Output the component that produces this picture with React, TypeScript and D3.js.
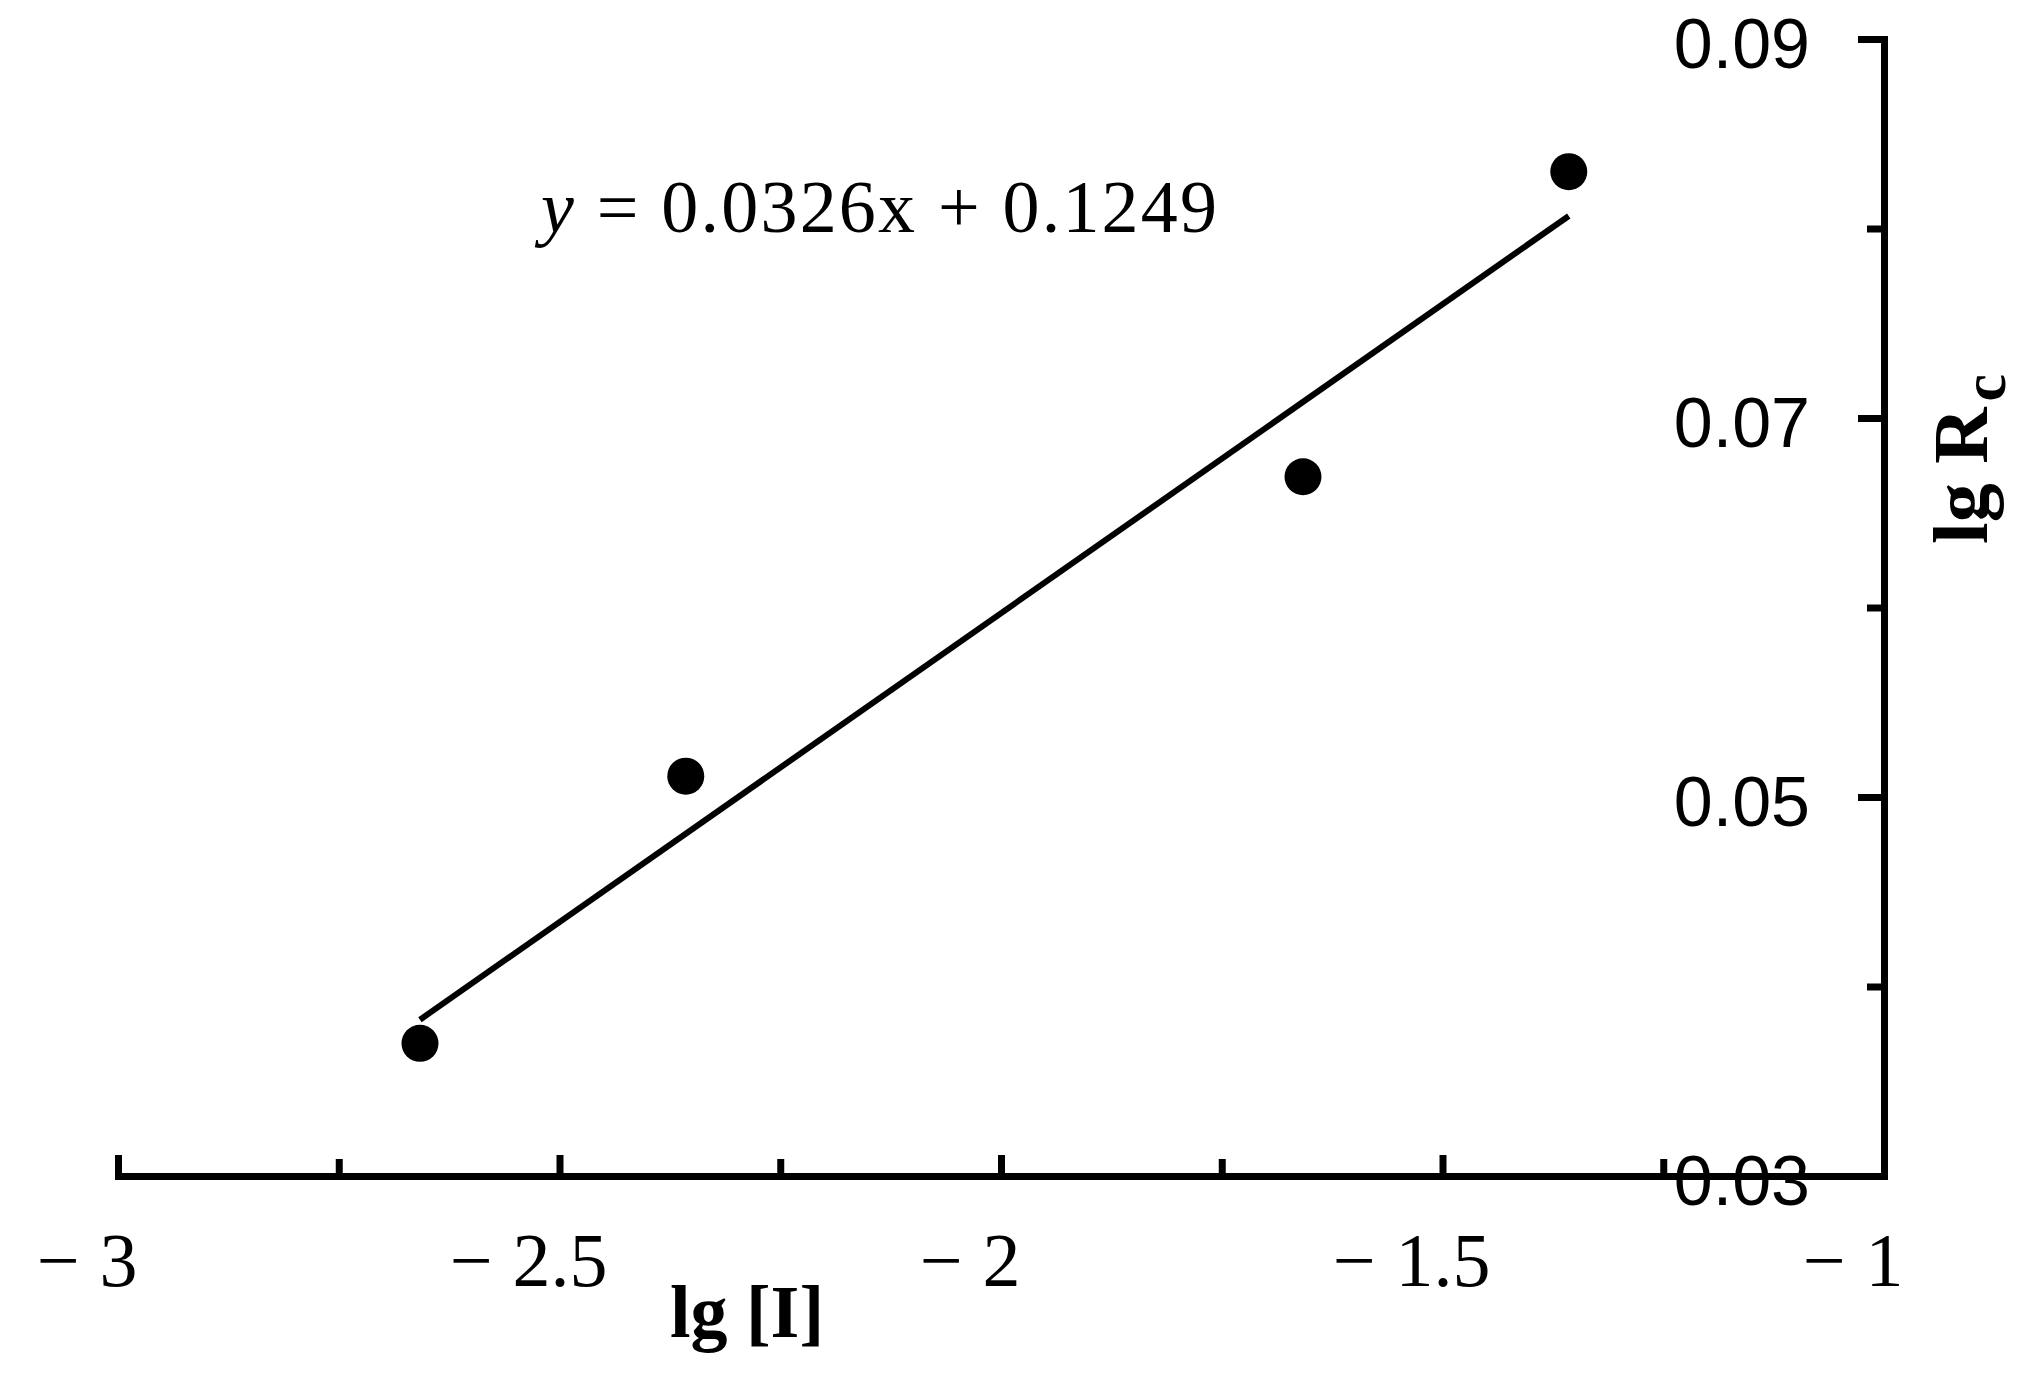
import React, { useEffect, useRef } from 'react';
import * as d3 from 'd3';

// lg of inhibitor concentration and lg Rc
const lgI = [-2.658, -2.357, -1.658, -1.357];
const lgRc = [0.037, 0.0511, 0.0669, 0.083];

// linear fit shown on the chart
const slope = 0.0326;
const intercept = 0.1249;

const xTicks = [-3, -2.5, -2, -1.5, -1];
const xMinorTicks = [-2.75, -2.25, -1.75, -1.25];
const yTicks = [0.03, 0.05, 0.07, 0.09];
const yMinorTicks = [0.04, 0.06, 0.08];

const W = 2019;
const H = 1375;

const App = () => {
  const chartRef = useRef<SVGSVGElement>(null);

  useEffect(() => {
    const svg = d3.select(chartRef.current);
    svg.selectAll("*").remove();

    const x = d3.scaleLinear().domain([-3, -1]).range([118, 1884]);
    const y = d3.scaleLinear().domain([0.03, 0.09]).range([1176, 39]);

    const serif = "'Liberation Serif', 'Times New Roman', serif";
    const sans = "'Liberation Sans', Arial, sans-serif";

    // fit line over the data range
    const [x0, x1] = d3.extent(lgI) as [number, number];
    const fit: [number, number][] = [[x0, slope * x0 + intercept], [x1, slope * x1 + intercept]];
    svg.append("path")
      .datum(fit)
      .attr("d", d3.line<[number, number]>().x(d => x(d[0])).y(d => y(d[1])))
      .attr("fill", "none")
      .attr("stroke", "#000")
      .attr("stroke-width", 6);

    // points
    svg.selectAll("circle.pt")
      .data(lgI.map((v, i) => [v, lgRc[i]]))
      .enter()
      .append("circle")
        .attr("class", "pt")
        .attr("cx", d => x(d[0]))
        .attr("cy", d => y(d[1]))
        .attr("r", 18.5)
        .attr("fill", "#000");

    // x axis (ticks point up); digits centred on the tick, minus hangs left
    const gx = svg.append("g")
      .attr("transform", `translate(0,${y(0.03)})`)
      .call(d3.axisBottom(x)
        .tickValues(xTicks)
        .tickSizeInner(-21)
        .tickSizeOuter(0)
        .tickPadding(56)
        .tickFormat(d => `${Math.abs(+d)}`));
    gx.selectAll<SVGTextElement, unknown>(".tick text")
      .attr("font-family", serif)
      .attr("font-size", 76)
      .attr("fill", "#000")
      .each(function () {
        const w = this.getComputedTextLength();
        d3.select(this.parentNode as SVGGElement)
          .append("text")
            .attr("x", -w / 2 - 20)
            .attr("y", this.getAttribute("y"))
            .attr("dy", this.getAttribute("dy"))
            .attr("text-anchor", "end")
            .attr("font-family", serif)
            .attr("font-size", 76)
            .attr("fill", "#000")
            .text("\u2212");
      });

    const gxMinor = svg.append("g")
      .attr("transform", `translate(0,${y(0.03)})`)
      .call(d3.axisBottom(x)
        .tickValues(xMinorTicks)
        .tickSizeInner(-17)
        .tickSizeOuter(0)
        .tickFormat(() => ""));
    gxMinor.select(".domain").remove();

    // y axis on the right (ticks point left)
    const gy = svg.append("g")
      .attr("transform", `translate(${x(-1)},0)`)
      .call(d3.axisLeft(y)
        .tickValues(yTicks)
        .tickSizeInner(26)
        .tickSizeOuter(0)
        .tickPadding(48)
        .tickFormat(d3.format(".2f")));
    gy.selectAll("text")
      .attr("font-family", sans)
      .attr("font-size", 70)
      .attr("fill", "#000")
      .attr("dy", "0.4em");

    const gyMinor = svg.append("g")
      .attr("transform", `translate(${x(-1)},0)`)
      .call(d3.axisLeft(y)
        .tickValues(yMinorTicks)
        .tickSizeInner(17)
        .tickSizeOuter(0)
        .tickFormat(() => ""));
    gyMinor.select(".domain").remove();

    svg.selectAll(".domain")
      .attr("stroke", "#000")
      .attr("stroke-width", 7)
      .attr("stroke-linecap", "square");
    svg.selectAll(".tick line")
      .attr("stroke", "#000")
      .attr("stroke-width", 7);

    // equation
    const eq = svg.append("text")
      .attr("x", 541)
      .attr("y", 232)
      .attr("font-family", serif)
      .attr("font-size", 74)
      .attr("fill", "#000")
      .attr("textLength", 676)
      .attr("lengthAdjust", "spacing");
    eq.append("tspan").attr("font-style", "italic").text("y");
    eq.append("tspan").text(` = ${slope}x + ${intercept}`);

    // axis titles
    svg.append("text")
      .attr("x", 747)
      .attr("y", 1337)
      .attr("text-anchor", "middle")
      .attr("font-family", serif)
      .attr("font-weight", "bold")
      .attr("font-size", 74)
      .attr("fill", "#000")
      .text("lg [I]");

    const yt = svg.append("text")
      .attr("transform", "translate(1987,544) rotate(-90)")
      .attr("font-family", serif)
      .attr("font-weight", "bold")
      .attr("font-size", 78)
      .attr("fill", "#000");
    yt.append("tspan").text("lg R");
    yt.append("tspan").attr("font-size", 62).attr("dx", 6).attr("dy", 18).text("c");
  }, []);

  return (
    <svg
      ref={chartRef}
      width={W}
      height={H}
      style={{ position: 'absolute', left: 0, top: 0, background: '#fff', display: 'block' }}
    />
  );
};

export default App;
